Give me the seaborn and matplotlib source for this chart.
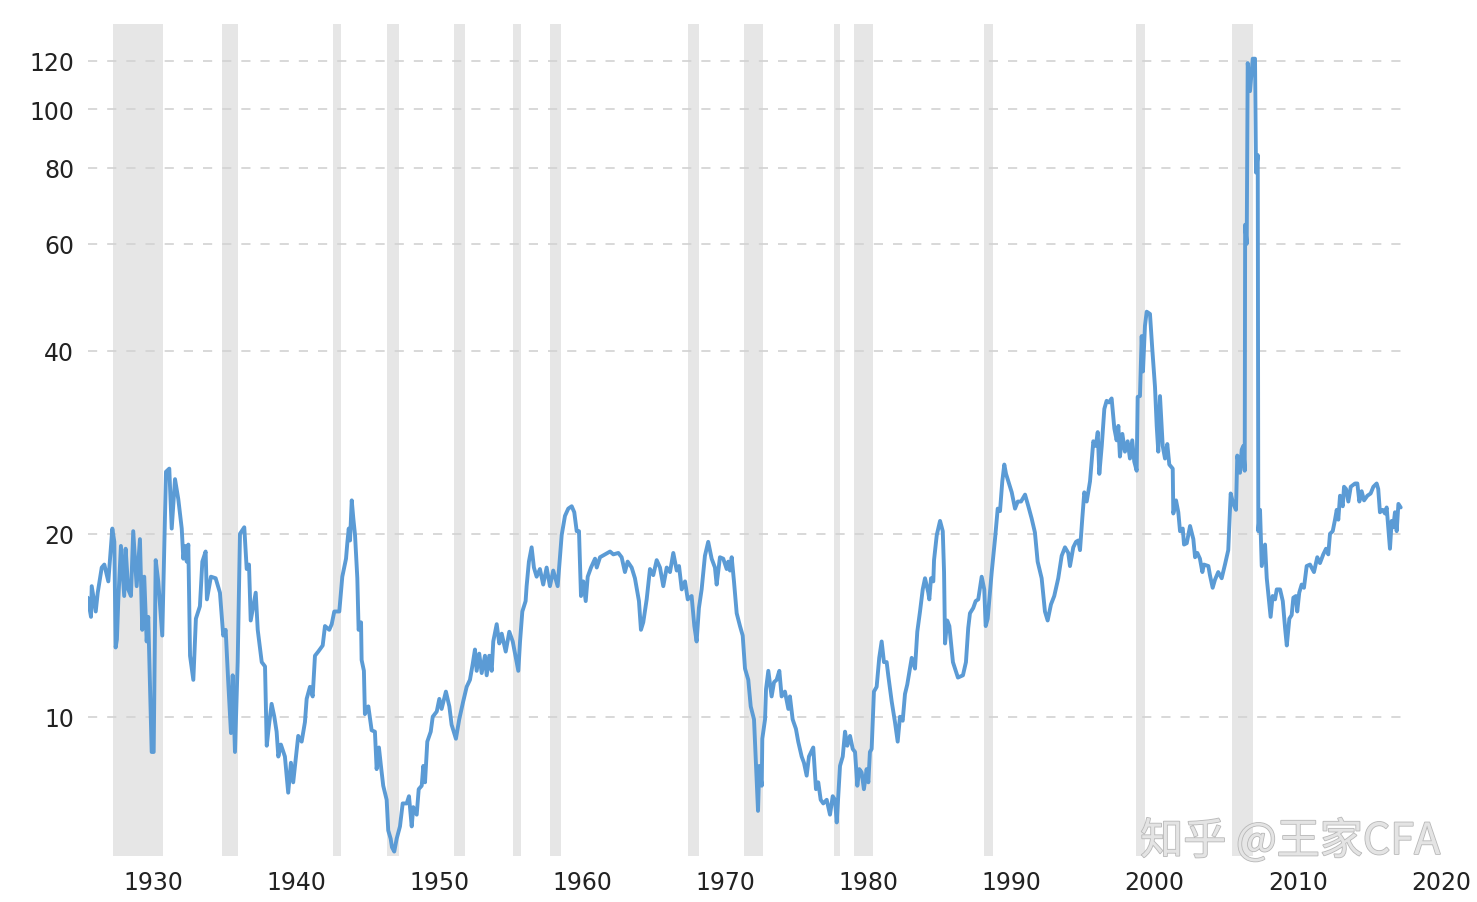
import matplotlib
matplotlib.use('Agg')
import matplotlib.pyplot as plt
import matplotlib.ticker as mticker
import matplotlib.patheffects as pe
import pandas as pd
import seaborn as sns

# S&P 500 P/E ratio (x in the chart's own year scale)
year = [
    1925.44, 1925.67, 1925.72, 1926.00, 1926.14, 1926.42, 1926.60, 1926.88, 1927.16, 1927.30,
    1927.39, 1927.48, 1927.58, 1927.76, 1927.99, 1928.09, 1928.27, 1928.46, 1928.62, 1928.86,
    1929.09, 1929.25, 1929.39, 1929.56, 1929.67, 1929.91, 1930.05, 1930.19, 1930.37, 1930.65,
    1930.91, 1931.14, 1931.31, 1931.54, 1931.77, 1932.01, 1932.12, 1932.24, 1932.36, 1932.47,
    1932.59, 1932.82, 1933.00, 1933.28, 1933.45, 1933.68, 1933.77, 1934.05, 1934.38, 1934.68,
    1934.91, 1935.08, 1935.26, 1935.45, 1935.57, 1935.73, 1935.92, 1936.08, 1936.38, 1936.55,
    1936.71, 1936.83, 1937.01, 1937.18, 1937.32, 1937.60, 1937.83, 1937.95, 1938.11, 1938.29,
    1938.48, 1938.64, 1938.76, 1938.94, 1939.22, 1939.45, 1939.64, 1939.80, 1940.15, 1940.39,
    1940.62, 1940.74, 1940.97, 1941.16, 1941.32, 1941.55, 1941.86, 1942.02, 1942.32, 1942.49,
    1942.67, 1943.02, 1943.23, 1943.49, 1943.58, 1943.68, 1943.77, 1943.89, 1944.00, 1944.12,
    1944.28, 1944.37, 1944.54, 1944.58, 1944.74, 1944.81, 1945.05, 1945.28, 1945.51, 1945.63,
    1945.79, 1945.93, 1946.09, 1946.33, 1946.44, 1946.61, 1946.70, 1946.86, 1947.03, 1947.26,
    1947.45, 1947.73, 1947.89, 1948.08, 1948.19, 1948.43, 1948.57, 1948.78, 1948.89, 1949.01,
    1949.17, 1949.41, 1949.55, 1949.83, 1950.01, 1950.17, 1950.47, 1950.71, 1950.87, 1951.17,
    1951.40, 1951.68, 1951.92, 1952.15, 1952.34, 1952.50, 1952.62, 1952.80, 1952.97, 1953.20,
    1953.32, 1953.50, 1953.67, 1953.78, 1954.02, 1954.20, 1954.37, 1954.65, 1954.90, 1955.14,
    1955.53, 1955.65, 1955.81, 1956.04, 1956.11, 1956.27, 1956.46, 1956.62, 1956.81, 1957.04,
    1957.27, 1957.51, 1957.74, 1957.97, 1958.28, 1958.56, 1958.79, 1959.02, 1959.26, 1959.44,
    1959.61, 1959.77, 1959.91, 1960.07, 1960.24, 1960.38, 1960.61, 1960.89, 1961.01, 1961.24,
    1961.59, 1961.94, 1962.17, 1962.52, 1962.75, 1962.98, 1963.17, 1963.45, 1963.68, 1963.96,
    1964.10, 1964.26, 1964.50, 1964.73, 1964.96, 1965.20, 1965.43, 1965.66, 1965.90, 1966.13,
    1966.36, 1966.60, 1966.76, 1966.95, 1967.18, 1967.37, 1967.64, 1967.83, 1967.99, 1968.15,
    1968.34, 1968.57, 1968.80, 1969.04, 1969.27, 1969.39, 1969.62, 1969.85, 1970.09, 1970.20,
    1970.32, 1970.44, 1970.60, 1970.79, 1971.02, 1971.21, 1971.37, 1971.60, 1971.77, 1972.00,
    1972.14, 1972.28, 1972.37, 1972.54, 1972.58, 1972.77, 1972.84, 1973.00, 1973.23, 1973.40,
    1973.58, 1973.77, 1973.93, 1974.16, 1974.40, 1974.51, 1974.70, 1974.93, 1975.09, 1975.33,
    1975.49, 1975.68, 1975.84, 1976.14, 1976.33, 1976.49, 1976.66, 1976.84, 1977.08, 1977.31,
    1977.50, 1977.66, 1977.78, 1978.01, 1978.20, 1978.36, 1978.52, 1978.71, 1978.90, 1979.06,
    1979.22, 1979.36, 1979.52, 1979.68, 1979.87, 1979.99, 1980.10, 1980.22, 1980.38, 1980.57,
    1980.75, 1980.92, 1981.08, 1981.27, 1981.38, 1981.62, 1981.85, 1982.04, 1982.20, 1982.39,
    1982.55, 1982.71, 1983.02, 1983.25, 1983.41, 1983.60, 1983.79, 1983.95, 1984.18, 1984.25,
    1984.37, 1984.53, 1984.58, 1984.77, 1985.00, 1985.19, 1985.28, 1985.35, 1985.50, 1985.65,
    1985.90, 1986.25, 1986.60, 1986.81, 1986.97, 1987.09, 1987.32, 1987.49, 1987.67, 1987.91,
    1988.09, 1988.19, 1988.33, 1988.61, 1988.84, 1989.03, 1989.19, 1989.35, 1989.49, 1989.61,
    1989.77, 1990.01, 1990.24, 1990.43, 1990.66, 1990.94, 1991.17, 1991.40, 1991.63, 1991.82,
    1992.10, 1992.33, 1992.52, 1992.75, 1992.98, 1993.26, 1993.50, 1993.73, 1993.96, 1994.08,
    1994.31, 1994.50, 1994.66, 1994.78, 1994.94, 1995.08, 1995.25, 1995.48, 1995.71, 1995.88,
    1996.02, 1996.13, 1996.30, 1996.48, 1996.64, 1996.81, 1996.99, 1997.18, 1997.34, 1997.46,
    1997.57, 1997.74, 1997.92, 1998.11, 1998.27, 1998.43, 1998.57, 1998.74, 1998.81, 1998.97,
    1999.09, 1999.18, 1999.32, 1999.44, 1999.67, 1999.83, 2000.02, 2000.14, 2000.25, 2000.37,
    2000.56, 2000.72, 2000.88, 2001.02, 2001.26, 2001.30, 2001.49, 2001.65, 2001.77, 2001.96,
    2002.05, 2002.24, 2002.47, 2002.70, 2002.82, 2002.98, 2003.16, 2003.33, 2003.44, 2003.75,
    2003.86, 2004.05, 2004.21, 2004.44, 2004.68, 2004.91, 2005.14, 2005.31, 2005.49, 2005.68,
    2005.77, 2005.96, 2006.08, 2006.19, 2006.29, 2006.32, 2006.43, 2006.50, 2006.66, 2006.85,
    2007.01, 2007.08, 2007.20, 2007.24, 2007.36, 2007.48, 2007.71, 2007.83, 2007.94, 2008.10,
    2008.24, 2008.41, 2008.53, 2008.76, 2008.95, 2009.11, 2009.23, 2009.41, 2009.57, 2009.69,
    2009.87, 2009.96, 2010.10, 2010.27, 2010.43, 2010.62, 2010.85, 2011.13, 2011.36, 2011.55,
    2011.78, 2011.97, 2012.13, 2012.25, 2012.44, 2012.60, 2012.72, 2012.83, 2012.95, 2013.14,
    2013.23, 2013.37, 2013.53, 2013.70, 2014.00, 2014.16, 2014.30, 2014.46, 2014.63, 2014.86,
    2015.09, 2015.28, 2015.51, 2015.62, 2015.74, 2015.93, 2016.09, 2016.21, 2016.32, 2016.44,
    2016.56, 2016.67, 2016.79, 2016.91, 2017.03, 2017.19,
]
pe_ratio = [
    15.7, 14.6, 16.4, 14.9, 16.0, 17.6, 17.8, 16.7, 20.4, 19.4,
    13.0, 13.4, 15.6, 19.1, 15.8, 18.9, 16.2, 15.8, 20.2, 16.4,
    19.6, 13.9, 17.0, 13.3, 14.6, 8.75, 8.75, 18.1, 16.7, 13.6,
    25.3, 25.6, 20.4, 24.6, 22.8, 20.4, 18.2, 19.1, 18.0, 19.2,
    12.6, 11.5, 14.5, 15.2, 18.0, 18.7, 15.6, 17.0, 16.9, 16.0,
    13.6, 13.9, 11.4, 9.4, 11.7, 8.75, 12.3, 20.0, 20.5, 17.5,
    17.8, 14.4, 15.2, 16.0, 13.9, 12.3, 12.1, 8.96, 9.7, 10.5,
    10.0, 9.45, 8.6, 9.0, 8.6, 7.5, 8.4, 7.8, 9.3, 9.1,
    9.8, 10.7, 11.2, 10.8, 12.6, 12.8, 13.1, 14.1, 13.9, 14.2,
    14.9, 14.9, 17.0, 18.2, 19.3, 20.4, 19.5, 22.7, 21.2, 19.9,
    16.9, 13.9, 14.3, 12.4, 11.9, 10.1, 10.4, 9.5, 9.45, 8.2,
    8.9, 8.3, 7.7, 7.3, 6.5, 6.3, 6.1, 6.0, 6.3, 6.6,
    7.2, 7.2, 7.4, 6.6, 7.1, 6.9, 7.6, 7.7, 8.3, 7.8,
    9.1, 9.45, 10.0, 10.2, 10.7, 10.3, 11.0, 10.4, 9.7, 9.2,
    9.9, 10.6, 11.2, 11.5, 12.2, 12.9, 11.9, 12.7, 11.8, 12.6,
    11.7, 12.6, 11.9, 13.3, 14.2, 13.2, 13.7, 12.8, 13.8, 13.3,
    11.9, 13.3, 14.9, 15.5, 16.4, 18.0, 19.0, 17.6, 17.0, 17.5,
    16.5, 17.6, 16.4, 17.4, 16.4, 19.9, 21.4, 22.0, 22.2, 21.7,
    20.2, 20.2, 15.8, 16.7, 15.5, 17.0, 17.6, 18.2, 17.6, 18.3,
    18.5, 18.7, 18.5, 18.6, 18.3, 17.3, 18.0, 17.6, 16.9, 15.5,
    13.9, 14.3, 15.6, 17.5, 17.1, 18.1, 17.6, 16.4, 17.6, 17.3,
    18.6, 17.4, 17.7, 16.2, 16.7, 15.6, 15.8, 14.1, 13.3, 15.1,
    16.2, 18.4, 19.4, 18.2, 17.6, 16.5, 18.3, 18.2, 17.5, 18.0,
    17.4, 18.3, 16.7, 14.8, 14.1, 13.6, 12.0, 11.5, 10.4, 9.9,
    8.3, 7.0, 8.3, 7.7, 9.2, 9.9, 11.1, 11.9, 10.8, 11.4,
    11.5, 11.9, 10.8, 11.0, 10.3, 10.8, 9.9, 9.55, 9.1, 8.6,
    8.4, 8.0, 8.6, 8.9, 7.6, 7.8, 7.3, 7.2, 7.3, 6.9,
    7.4, 7.3, 6.7, 8.3, 8.6, 9.45, 8.96, 9.3, 8.85, 8.75,
    7.7, 8.2, 8.1, 7.6, 8.2, 7.8, 8.75, 8.85, 11.0, 11.2,
    12.5, 13.3, 12.3, 12.3, 11.7, 10.6, 9.8, 9.1, 10.0, 9.85,
    10.9, 11.3, 12.5, 12.0, 13.8, 14.9, 16.2, 16.9, 16.0, 15.6,
    16.9, 16.7, 18.1, 19.9, 21.0, 20.2, 17.3, 13.2, 14.4, 14.1,
    12.3, 11.6, 11.7, 12.3, 14.0, 14.8, 15.1, 15.5, 15.6, 17.0,
    16.2, 14.1, 14.5, 17.3, 19.6, 22.0, 21.8, 24.4, 26.0, 25.1,
    24.4, 23.4, 22.0, 22.6, 22.6, 23.2, 22.2, 21.2, 20.1, 18.0,
    16.9, 14.9, 14.4, 15.3, 15.8, 16.9, 18.4, 19.0, 18.6, 17.7,
    19.0, 19.4, 19.5, 18.8, 21.2, 23.4, 22.6, 24.4, 28.4, 27.9,
    29.4, 25.1, 27.9, 32.1, 33.1, 32.9, 33.4, 29.8, 28.5, 30.1,
    26.8, 29.2, 27.3, 28.4, 26.6, 28.5, 26.3, 25.4, 33.6, 33.7,
    42.3, 37.0, 44.0, 46.4, 46.0, 40.3, 34.9, 30.1, 27.3, 33.7,
    27.9, 26.6, 28.1, 26.0, 25.6, 21.6, 22.7, 21.7, 20.2, 20.4,
    19.2, 19.3, 20.6, 19.6, 18.3, 18.6, 18.2, 17.3, 17.8, 17.7,
    17.1, 16.3, 16.8, 17.3, 16.9, 17.8, 18.8, 23.3, 22.4, 21.9,
    26.9, 25.2, 27.5, 27.9, 25.4, 64.5, 60.0, 119, 107, 121,
    121, 78.6, 84, 20.2, 21.9, 17.7, 19.2, 16.9, 15.9, 14.6,
    15.8, 15.6, 16.2, 16.2, 15.5, 14.0, 13.1, 14.5, 14.7, 15.7,
    15.8, 14.9, 16.0, 16.5, 16.3, 17.7, 17.8, 17.3, 18.3, 17.9,
    18.5, 18.9, 18.5, 20.0, 20.2, 21.1, 21.9, 21.1, 23.1, 22.2,
    23.9, 23.7, 22.6, 23.9, 24.2, 24.2, 22.6, 23.5, 22.7, 23.1,
    23.3, 23.9, 24.2, 23.7, 21.7, 21.9, 21.6, 22.1, 20.5, 18.9,
    21.0, 20.5, 21.7, 20.2, 22.4, 22.1,
]

# recession periods (shaded)
rec_start = [1927.20, 1934.82, 1942.58, 1946.35, 1951.03, 1955.16, 1957.74,
             1967.39, 1971.30, 1977.59, 1978.99, 1988.07, 1998.69, 2005.40]
rec_end = [1930.70, 1935.94, 1943.14, 1947.19, 1951.80, 1955.72, 1958.51,
           1968.15, 1972.63, 1978.01, 1980.31, 1988.70, 1999.32, 2006.87]

y_ticks = [10, 20, 40, 60, 80, 100, 120]
x_ticks = [1930, 1940, 1950, 1960, 1970, 1980, 1990, 2000, 2010, 2020]

df = pd.DataFrame({'year': year, 'pe': pe_ratio})

sns.set_style('white')
plt.rcParams['font.family'] = ['Liberation Sans Narrow', 'DejaVu Sans']

fig = plt.figure(figsize=(14.77, 9.03), dpi=100)
ax = fig.add_axes([88 / 1477, 46 / 903, 1322 / 1477, 832 / 903])

for s, e in zip(rec_start, rec_end):
    ax.axvspan(s, e, color='#e6e6e6', lw=0, zorder=0)

sns.lineplot(x='year', y='pe', data=df, ax=ax, color='#5b9bd5',
             linewidth=2.8, estimator=None, sort=False, zorder=3)

ax.set_yscale('log')
ax.set_xlim(1925.46, 2017.84)
ax.set_ylim(5.9, 138)
ax.yaxis.set_major_locator(mticker.FixedLocator(y_ticks))
ax.yaxis.set_major_formatter(mticker.FixedFormatter([str(t) for t in y_ticks]))
ax.yaxis.set_minor_locator(mticker.NullLocator())
ax.set_xticks([])
ax.tick_params(axis='y', length=0, pad=10, labelsize=17, labelcolor='#222222')
ax.yaxis.grid(True, color='#d2d2d2', linestyle=(0, (5.5, 6)), linewidth=1.2)
ax.xaxis.grid(False)
ax.set_xlabel('')
ax.set_ylabel('')
sns.despine(ax=ax, left=True, bottom=True)

# decade labels (2020 sits past the end of the plot area)
for t in x_ticks:
    ax.text(t, -0.031, str(t), transform=ax.get_xaxis_transform(),
            ha='center', va='center', fontsize=17, color='#222222', clip_on=False)

fig.text(1440 / 1477, 1 - 843 / 903, '知乎 @王家CFA', ha='right', va='center',
         fontsize=31, color='#e4e4e4', family=['Noto Sans CJK SC', 'DejaVu Sans'],
         path_effects=[pe.withStroke(linewidth=1.2, foreground='#b8b8b8')])

fig.savefig('out.png', dpi=100)
